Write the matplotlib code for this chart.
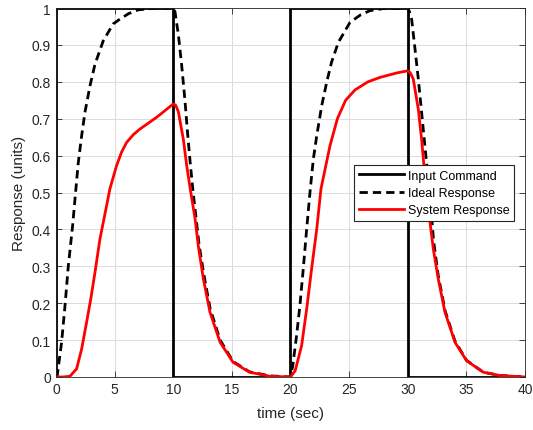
import matplotlib as mpl
mpl.use('Agg')
import matplotlib.pyplot as plt

plt.rcParams['font.family'] = ['Liberation Sans', 'DejaVu Sans']

# input command (square pulses)
cmd_t = [0, 0, 10, 10, 20, 20, 30, 30, 40]
cmd_y = [0, 1, 1, 0, 0, 1, 1, 0, 0]

# ideal response
ideal_t = [0, 0.11, 0.48, 0.77, 1.05, 1.42, 1.7, 1.9, 2.19, 2.47, 2.9, 3.33, 4.03, 4.88, 5.45, 6.2, 7.0, 8.5, 10.0,
           10.15, 10.43, 10.72, 11.0, 11.2, 11.45, 11.7, 11.95, 12.2, 12.6, 13.15, 14.0, 15.1, 16.5, 18.25, 20.0,
           20.19, 20.52, 20.8, 21.09, 21.38, 21.66, 21.95, 22.24, 22.66, 23.09, 23.5, 24.08, 25.07, 26.0, 26.78, 28.0, 30.0,
           30.15, 30.33, 30.62, 30.9, 31.18, 31.45, 31.7, 31.95, 32.2, 32.6, 33.18, 34.03, 35.02, 36.44, 37.87, 40.0]
ideal_y = [0, 0.004, 0.094, 0.193, 0.3, 0.41, 0.51, 0.58, 0.654, 0.717, 0.789, 0.848, 0.911, 0.957, 0.97, 0.985, 0.995, 1.0, 1.0,
           0.99, 0.93, 0.845, 0.75, 0.67, 0.58, 0.5, 0.43, 0.36, 0.28, 0.185, 0.1, 0.042, 0.014, 0.003, 0.0,
           0.03, 0.112, 0.193, 0.293, 0.401, 0.5, 0.591, 0.654, 0.735, 0.799, 0.853, 0.907, 0.961, 0.982, 0.993, 0.999, 1.0,
           0.99, 0.97, 0.889, 0.808, 0.718, 0.63, 0.55, 0.47, 0.37, 0.275, 0.18, 0.097, 0.045, 0.013, 0.004, 0.0]

# system response
sys_t = [0, 0.6, 1.19, 1.76, 2.19, 2.61, 2.96, 3.33, 3.75, 4.26, 4.6, 5.17, 5.6, 6.03, 6.6, 7.16, 8.59, 10.0,
         10.2, 10.43, 10.86, 11.15, 11.45, 11.86, 12.14, 12.57, 13.14, 14.0, 15.1, 16.5, 18.25, 20.0,
         20.4, 20.95, 21.38, 21.8, 22.24, 22.6, 23.37, 24.0, 24.7, 25.5, 26.6, 27.63, 29.05, 30.0,
         30.2, 30.47, 30.9, 31.18, 31.38, 31.65, 31.9, 32.18, 32.6, 33.18, 34.03, 35.02, 36.44, 37.87, 40.0]
sys_y = [0, 0.0, 0.002, 0.022, 0.076, 0.148, 0.21, 0.284, 0.374, 0.455, 0.51, 0.573, 0.61, 0.636, 0.657, 0.672, 0.704, 0.74,
         0.737, 0.72, 0.645, 0.573, 0.51, 0.43, 0.355, 0.266, 0.175, 0.094, 0.04, 0.013, 0.002, 0.0,
         0.017, 0.085, 0.184, 0.293, 0.401, 0.51, 0.627, 0.7, 0.75, 0.778, 0.8, 0.812, 0.824, 0.83,
         0.825, 0.808, 0.726, 0.645, 0.573, 0.5, 0.419, 0.347, 0.266, 0.175, 0.094, 0.044, 0.013, 0.004, 0.0]

fig = plt.figure(figsize=(5.33, 4.31), dpi=100)
ax = fig.add_axes([0.105, 0.123, 0.88, 0.856])

ax.plot(cmd_t, cmd_y, color='black', lw=2, label='Input Command')
ax.plot(ideal_t, ideal_y, color='black', lw=2, ls=(0, (3, 1.8)), label='Ideal Response')
ax.plot(sys_t, sys_y, color='red', lw=2, label='System Response')

ax.set_xlim(0, 40)
ax.set_ylim(0, 1)
ax.set_xticks(range(0, 41, 5))
ax.set_yticks([i / 10 for i in range(11)])
ax.set_yticklabels(['0', '0.1', '0.2', '0.3', '0.4', '0.5', '0.6', '0.7', '0.8', '0.9', '1'])
ax.grid(True, color='#dcdcdc', lw=0.7)
ax.set_axisbelow(True)
ax.tick_params(direction='in', top=True, right=True, colors='#262626', labelsize=10, length=4, width=0.6)
for s in ax.spines.values():
    s.set_color('#262626')
    s.set_linewidth(0.6)

ax.set_xlabel('time (sec)', fontsize=11, color='#262626', labelpad=7)
ax.set_ylabel('Response (units)', fontsize=11, color='#262626')

leg = ax.legend(loc='upper left', bbox_to_anchor=(0.635, 0.575), fontsize=9, fancybox=False,
                framealpha=1, edgecolor='#262626', handlelength=3.6, borderpad=0.4, labelspacing=0.42,
                handletextpad=0.3, borderaxespad=0)
leg.get_frame().set_linewidth(0.8)

fig.savefig('out.png', dpi=100)
